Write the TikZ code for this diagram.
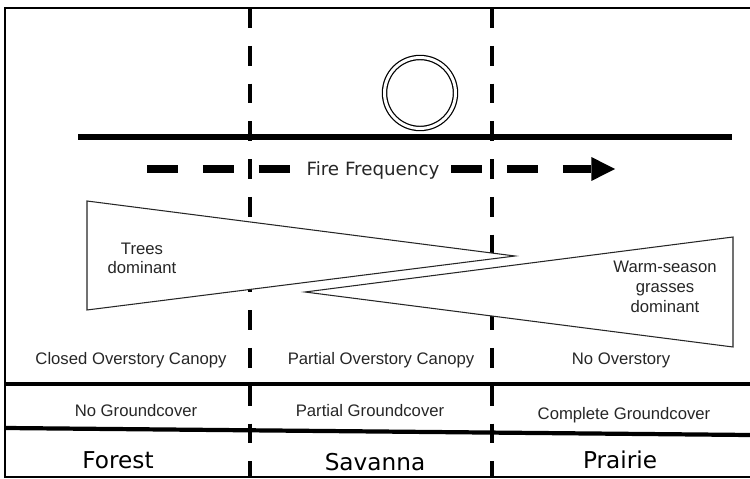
\documentclass[tikz,border=0pt]{standalone}
\usepackage{fontspec}
\setmainfont{Liberation Sans}
\newfontfamily\verdfont{DejaVu Sans}
\usetikzlibrary{arrows.meta}

\begin{document}
\begin{tikzpicture}[x=0.02cm, y=-0.02cm,
    zone/.style={line width=2.6pt, dash pattern=on 11.3pt off 10.2pt},
    wedge/.style={draw=black!85, fill=white, line width=0.6pt},
    small/.style={font=\fontsize{9.5}{11.2}\selectfont, text=black!85, inner sep=0pt},
    biome/.style={font=\verdfont\fontsize{13.2}{15}\selectfont, inner sep=0pt},
    firearrow/.style={line width=4.8pt, dash pattern=on 17.8pt off 14pt}]
  \useasboundingbox (0,0) rectangle (750,479);
  % frame and bands
  \draw[line width=1.7pt] (750,8) -- (5,8) -- (5,477) -- (750,477);
  \draw[line width=2.8pt] (5,384) -- (750,384);
  \draw[line width=2.4pt] (5,428) -- (750,435);
  % zone borders
  \draw[zone] (250,8) -- (250,477);
  \draw[zone] (492,8) -- (492,477);
  % fire line and ball
  \draw[line width=3.7pt] (78,137) -- (732,137);
  \draw[line width=0.7pt, double, double distance=1.7pt] (420,93) circle (0.71cm);
  % fire frequency
  \coordinate (fstart) at (147,169);
  \coordinate (fend) at (615,169);
  \node[font=\verdfont\fontsize{10.4}{12}\selectfont, text=black!85, inner xsep=6.4pt, inner ysep=0pt, anchor=base] (fire) at (373,176) {Fire Frequency};
  \draw[firearrow] (fstart) -- (fstart -| fire.west);
  \draw[firearrow, -{Triangle[length=13.4pt, width=13.6pt, line width=0pt]}] (fend -| fire.east) -- (fend);
  % wedges
  \draw[wedge] (87,201) -- (515,256) -- (87,310) -- cycle;
  \draw[wedge] (733,237) -- (305,292) -- (733,347) -- cycle;
  \node[small, align=center] (trees) at (142,258.5) {Trees\\dominant};
  \node[small, align=center] (grass) at (665,287) {Warm-season\\grasses\\dominant};
  % rows
  \node[small, anchor=base] (closed) at (131,364) {Closed Overstory Canopy};
  \node[small, anchor=base] (partial) at (381,364) {Partial Overstory Canopy};
  \node[small, anchor=base] (noover) at (621,364) {No Overstory};
  \node[small, anchor=base] (nogc) at (136,416) {No Groundcover};
  \node[small, anchor=base] (partgc) at (370,416) {Partial Groundcover};
  \node[small, anchor=base] (compgc) at (624,419) {Complete Groundcover};
  \node[biome, anchor=base] (forest) at (118,468) {Forest};
  \node[biome, anchor=base] (savanna) at (375,470) {Savanna};
  \node[biome, anchor=base] (prairie) at (620,468) {Prairie};
\end{tikzpicture}
\end{document}
